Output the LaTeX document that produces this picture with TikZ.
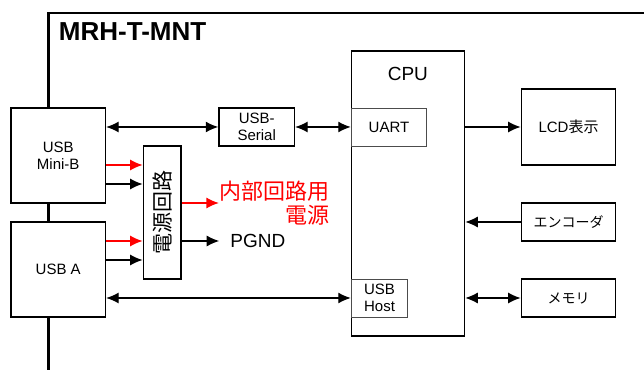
\documentclass[tikz,border=0pt]{standalone}
\usepackage{fontspec}
\setmainfont{Liberation Sans}
\newfontfamily\jp{Noto Sans CJK JP}
\usetikzlibrary{positioning, arrows.meta, calc}

\tikzset{
  blk/.style={draw, line width=1.3pt, fill=white, inner sep=0pt, align=center,
    font=\fontsize{15}{17}\selectfont},
  sub/.style={blk, draw=black!70, line width=0.9pt},
  con/.style={line width=1.3pt, -{Latex[length=12.5pt,width=11pt]}},
  bicon/.style={con, {Latex[length=12.5pt,width=11pt]}-{Latex[length=12.5pt,width=11pt]}},
  pwr/.style={con, red},
}

\begin{document}
\begin{tikzpicture}[x=18.9pt, y=-19pt]
        \useasboundingbox (-0.582,-0.684) rectangle (33.492,18.789);
        % frame of the board
        \draw[line width=2.8pt] (2,18.9) -- (2,0) -- (34,0);
        \node[anchor=west, font=\fontsize{26}{28}\bfseries\selectfont] (title) at (2.35,1) {MRH-T-MNT};

        % connectors
        \node[blk, minimum width=5*18.9pt, minimum height=5*19pt] (minib) at (2.5,7.5) {USB\\Mini-B};
        \node[blk, minimum width=5*18.9pt, minimum height=5*19pt] (usba) at (2.5,13.5) {USB A};

        % power
        \node[blk, minimum width=2*18.9pt, minimum height=7*19pt] (power) at (8,10.5)
            {\rotatebox{90}{\jp\fontsize{21}{21}\selectfont 電源回路}};
        \node[anchor=west, red, align=right, inner sep=0pt, font=\jp\fontsize{22}{24}\selectfont] (intpwr) at (11,10) {内部回路用\\電源};
        \node[anchor=west, inner sep=0pt, font=\fontsize{19}{21}\selectfont] (pgnd) at (11.6,12) {PGND};

        \node[blk, minimum width=4*18.9pt, minimum height=2*19pt] (serial) at (13,6) {USB-\\Serial};

        % cpu and its blocks
        \node[blk, minimum width=6*18.9pt, minimum height=15*19pt] (cpu) at (21,9.5) {};
        \node[font=\fontsize{19}{21}\selectfont] (cpulabel) at (21,3.2) {CPU};
        \node[sub, minimum width=4*18.9pt, minimum height=2*19pt] (uart) at (20,6) {UART};
        \node[sub, minimum width=3*18.9pt, minimum height=2*19pt] (host) at (19.5,15) {USB\\Host};

        \node[blk, minimum width=5*18.9pt, minimum height=4*19pt] (lcd) at (29.5,6) {LCD{\jp 表示}};
        \node[blk, minimum width=5*18.9pt, minimum height=2*19pt, font=\jp\fontsize{14}{16}\selectfont] (enc) at (29.5,11) {エンコーダ};
        \node[blk, minimum width=5*18.9pt, minimum height=2*19pt, font=\jp\fontsize{14}{16}\selectfont] (mem) at (29.5,15) {メモリ};

        \draw[bicon] (minib.east |- serial.west) -- (serial.west);
        \draw[bicon] (serial.east) -- (uart.west);
        \draw[pwr] (minib.east) ++(0,0.5) coordinate (m1) -- (m1 -| power.west);
        \draw[con] (minib.east) ++(0,1.5) coordinate (m2) -- (m2 -| power.west);
        \draw[pwr] (usba.east) ++(0,-1.5) coordinate (a1) -- (a1 -| power.west);
        \draw[con] (usba.east) ++(0,-0.5) coordinate (a2) -- (a2 -| power.west);
        \draw[pwr] (power.east |- intpwr.west) -- (intpwr.west);
        \draw[con] (power.east |- pgnd.west) -- ([xshift=-11pt]pgnd.west);
        \draw[bicon] (usba.east |- host.west) -- (host.west);
        \draw[con] (cpu.east |- lcd.west) -- (lcd.west);
        \draw[con] (enc.west) -- (cpu.east |- enc.west);
        \draw[bicon] (cpu.east |- mem.west) -- (mem.west);
\end{tikzpicture}
\end{document}
